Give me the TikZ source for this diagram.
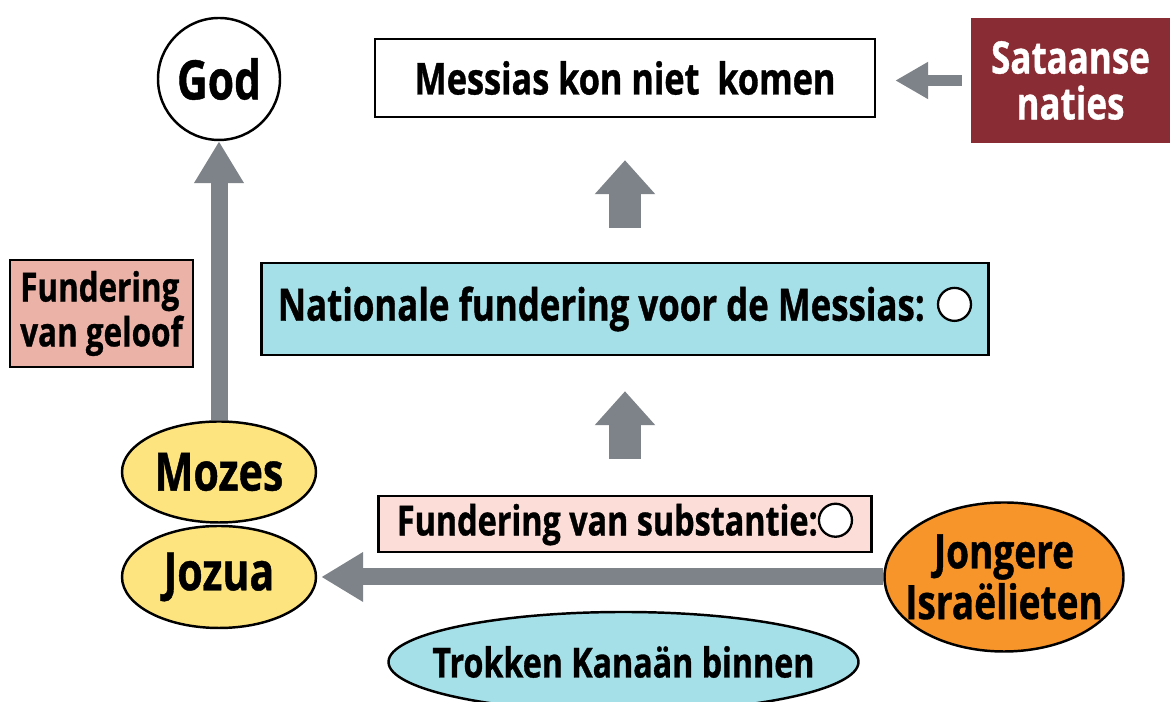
\documentclass[tikz,border=0pt]{standalone}
\usepackage{fontspec}
\setmainfont{Open Sans}[FakeStretch=0.78, FakeBold=0.8]
\usepackage{xcolor}
\usepackage{tikz}
\usetikzlibrary{shapes, arrows.meta, positioning}

\definecolor{arrowgray}{RGB}{125,131,137}
\definecolor{satanred}{RGB}{137,44,51}
\definecolor{nationcyan}{RGB}{165,224,232}
\definecolor{faithpink}{RGB}{235,178,168}
\definecolor{substpink}{RGB}{253,221,216}
\definecolor{personyellow}{RGB}{253,228,127}
\definecolor{youngorange}{RGB}{247,148,42}

\newcommand{\ringmark}{\tikz[baseline=-0.67ex]\draw[line width=1.3pt, fill=white] (0,0) circle (0.33cm);}

\begin{document}
\begin{tikzpicture}[
    box/.style={rectangle, draw, line width=1.4pt, inner sep=0pt, align=center},
    bubble/.style={ellipse, draw, line width=1.4pt, inner xsep=-0.6cm, inner ysep=0pt, align=center},
    persontext/.style={font=\bfseries\fontsize{30}{32}\selectfont},
    uparrow/.style={-{Triangle[width=1.17cm, length=0.68cm]}, line width=0.63cm, draw=arrowgray},
    flow/.style={-{Triangle[width=0.94cm, length=0.84cm]}, line width=0.34cm, draw=arrowgray},
    pushflow/.style={-{Triangle[width=0.7cm, length=0.66cm]}, line width=0.22cm, draw=arrowgray}
  ]
    \useasboundingbox (0, 0) rectangle (23.4, 14.04);

    % Top row
    \node[circle, draw, line width=1.4pt, fill=white, minimum size=2.44cm, inner sep=0pt, font=\bfseries\fontsize{31}{34}\selectfont] (god) at (4.38, 12.46) {God};
    \node[box, fill=white, minimum width=10cm, minimum height=1.56cm, font=\bfseries\fontsize{25}{28}\selectfont] (messias) at (12.5, 12.48) {Messias kon niet\ \ komen};
    \node[rectangle, fill=satanred, text=white, minimum width=3.98cm, minimum height=2.5cm, inner sep=0pt, align=center, font=\bfseries\fontsize{25.5}{26.1}\selectfont] (satan) at (21.41, 12.43) {Sataanse\\naties};

    % Middle
    \node[box, fill=faithpink, minimum width=3.66cm, minimum height=2.14cm, align=left, font=\bfseries\fontsize{22.9}{25.5}\selectfont] (faith) at (2.03, 7.77) {Fundering\\van geloof};
    \node[box, fill=nationcyan, minimum width=14.54cm, minimum height=1.84cm, font=\bfseries\fontsize{25.4}{28}\selectfont] (nation) at (12.5, 7.86) {Nationale fundering voor de Messias: \ringmark};

    % Bottom
    \node[bubble, fill=personyellow, minimum width=3.88cm, minimum height=2.02cm, persontext] (mozes) at (4.38, 4.6) {Mozes};
    \node[bubble, fill=personyellow, minimum width=3.88cm, minimum height=2.04cm, persontext] (jozua) at (4.38, 2.5) {Jozua};
    \node[box, fill=substpink, minimum width=9.86cm, minimum height=1.12cm, font=\bfseries\fontsize{23.6}{26}\selectfont] (substance) at (12.5, 3.56) {Fundering van substantie:\ringmark};
    \node[bubble, fill=youngorange, minimum width=4.78cm, minimum height=2.98cm, font=\bfseries\fontsize{27}{28.9}\selectfont] (young) at (20.08, 2.5) {Jongere\\Israëlieten};
    \node[bubble, fill=nationcyan, minimum width=9.4cm, minimum height=2cm, font=\bfseries\fontsize{23.5}{26}\selectfont] (canaan) at (12.47, 0.8) {Trokken Kanaän binnen};

    % Arrows
    \draw[flow] (mozes.north) -- (god.south);
    \draw[flow, shorten >=0.08cm] (young.west) -- (jozua.east);
    \draw[pushflow, shorten <=0.18cm, shorten >=0.38cm] (satan.west) -- (satan.west -| messias.east);
    \draw[uparrow, shorten <=0.72cm, shorten >=0.7cm] (substance.north) -- (nation.south);
    \draw[uparrow, shorten <=0.68cm, shorten >=0.84cm] (nation.north) -- (messias.south);

  \end{tikzpicture}
\end{document}
